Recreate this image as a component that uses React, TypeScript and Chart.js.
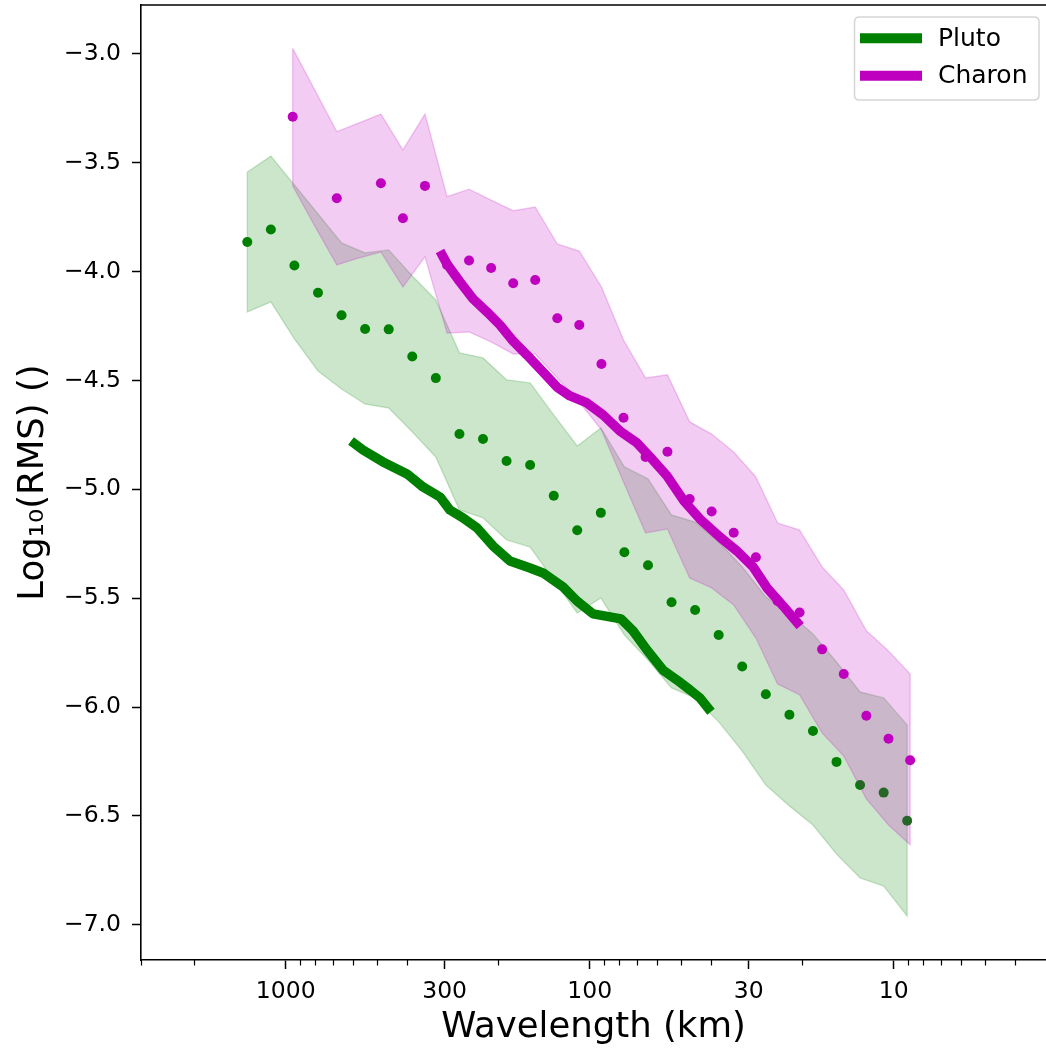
import React, { useEffect, useRef } from 'react';
import { Chart, registerables } from 'chart.js';

Chart.register(...registerables);

// ---------- data ----------
const plutoWavelength = [1337.6, 1118.9, 936.1, 782.9, 655.0, 548.0, 458.3, 383.4, 320.7, 268.2, 224.4, 187.7, 157.0, 131.3, 109.9, 91.9, 76.9, 64.3, 53.8, 45.0, 37.65, 31.5, 26.34, 22.03, 18.43, 15.42, 12.9, 10.79, 9.03];
const plutoRms = [-3.864, -3.806, -3.972, -4.097, -4.2, -4.263, -4.265, -4.39, -4.489, -4.746, -4.769, -4.87, -4.888, -5.029, -5.188, -5.108, -5.289, -5.349, -5.519, -5.554, -5.669, -5.814, -5.941, -6.035, -6.11, -6.252, -6.358, -6.393, -6.522];
const plutoUpper = [-3.542, -3.469, -3.602, -3.735, -3.868, -3.914, -3.9, -4.02, -4.13, -4.373, -4.396, -4.497, -4.511, -4.658, -4.801, -4.718, -4.897, -4.952, -5.118, -5.15, -5.242, -5.356, -5.494, -5.572, -5.664, -5.793, -5.931, -5.958, -6.082];
const plutoLower = [-4.185, -4.139, -4.309, -4.456, -4.539, -4.608, -4.626, -4.736, -4.851, -5.095, -5.131, -5.232, -5.265, -5.416, -5.568, -5.499, -5.669, -5.784, -5.912, -5.958, -6.068, -6.202, -6.358, -6.454, -6.542, -6.675, -6.785, -6.822, -6.96];

const charonWavelength = [948.4, 802.6, 679.1, 574.5, 486.2, 411.5, 348.2, 294.7, 249.4, 211.0, 178.5, 151.1, 127.8, 108.2, 91.5, 77.4, 65.5, 55.5, 46.9, 39.7, 33.6, 28.4, 24.1, 20.4, 17.2, 14.6, 12.3, 10.4, 8.83];
const charonRms = [-3.288, null, -3.663, null, -3.594, -3.755, -3.606, -3.969, -3.949, -3.983, -4.053, -4.038, -4.214, -4.245, -4.424, -4.671, -4.851, -4.827, -5.044, -5.102, -5.199, -5.312, -5.513, -5.566, -5.735, -5.848, -6.04, -6.146, -6.244];
const charonUpper = [-2.974, -3.165, -3.357, -3.317, -3.276, -3.441, -3.276, -3.655, -3.621, -3.671, -3.72, -3.703, -3.873, -3.905, -4.07, -4.314, -4.488, -4.474, -4.69, -4.746, -4.828, -4.943, -5.154, -5.187, -5.356, -5.462, -5.65, -5.742, -5.848];
const charonLower = [-3.606, -3.79, -3.969, -3.937, -3.91, -4.07, -3.932, -4.282, -4.277, -4.323, -4.378, -4.378, -4.488, -4.599, -4.727, -4.966, -5.2, -5.182, -5.407, -5.453, -5.531, -5.683, -5.894, -5.944, -6.119, -6.225, -6.422, -6.542, -6.633];

const plutoCurveWavelength = [609.8, 556.8, 478.6, 399.0, 353.5, 310.8, 288.2, 261.1, 234.8, 208.0, 182.9, 157.2, 142.4, 122.4, 110.1, 97.5, 85.8, 78.9, 72.0, 64.8, 57.4, 51.6, 46.8, 43.4, 39.9];
const plutoCurveRms = [-4.778, -4.819, -4.874, -4.929, -4.989, -5.035, -5.095, -5.131, -5.177, -5.26, -5.329, -5.361, -5.384, -5.448, -5.513, -5.572, -5.586, -5.595, -5.65, -5.738, -5.83, -5.876, -5.921, -5.958, -6.022];

const charonCurveWavelength = [310.8, 294.7, 267.2, 242.0, 217.7, 197.3, 178.8, 160.8, 142.4, 128.1, 116.1, 102.1, 90.4, 79.5, 69.9, 63.3, 55.7, 49.0, 43.4, 37.3, 32.8, 29.0, 26.1, 23.1, 20.3];
const charonCurveRms = [-3.905, -3.965, -4.047, -4.125, -4.185, -4.245, -4.318, -4.383, -4.461, -4.53, -4.571, -4.603, -4.658, -4.732, -4.787, -4.851, -4.938, -5.053, -5.136, -5.219, -5.283, -5.356, -5.453, -5.536, -5.628];

const xTickValues = [1000, 300, 100, 30, 10];
const xMinorTickValues = [3000, 2000, 900, 800, 700, 600, 500, 400, 200, 90, 80, 70, 60, 50, 40, 20, 9, 8, 7, 6, 5, 4];
const yTickValues = [-3.0, -3.5, -4.0, -4.5, -5.0, -5.5, -6.0, -6.5, -7.0];

const X_MIN = 3.155;
const X_MAX = 2992;
const Y_MIN = -7.162;
const Y_MAX = -2.775;

const GREEN = '#008000';
const MAGENTA = '#bf00bf';
const GREEN_A = 'rgba(0,128,0,0.2)';
const MAGENTA_A = 'rgba(191,0,191,0.2)';
const FONT = '"DejaVu Sans", "Liberation Sans", sans-serif';

// ---------- helpers ----------
const pts = (xs: number[], ys: (number | null)[]) => xs.map((x, i) => ({ x, y: ys[i] }));
const bandLoop = (xs: number[], up: number[], lo: number[]) => {
  const top = xs.map((x, i) => ({ x, y: up[i] }));
  const bot = xs.map((x, i) => ({ x, y: lo[i] })).reverse();
  return [...top, ...bot, top[0]];
};
const fmtMinus = (v: number) => (v < 0 ? '\u2212' : '') + Math.abs(v).toFixed(1);

const decorPlugin = {
  id: 'decor',
  afterDraw(chart: any) {
    const { ctx, chartArea, scales } = chart;
    const xs = scales.x;
    ctx.save();
    // top spine
    ctx.strokeStyle = '#000';
    ctx.lineWidth = 1.6;
    ctx.beginPath();
    ctx.moveTo(chartArea.left, chartArea.top);
    ctx.lineTo(chartArea.right + 4, chartArea.top);
    ctx.stroke();
    // minor x ticks
    ctx.lineWidth = 1.2;
    for (const v of xMinorTickValues) {
      const px = Math.round(xs.getPixelForValue(v)) + 0.5;
      ctx.beginPath();
      ctx.moveTo(px, chartArea.bottom);
      ctx.lineTo(px, chartArea.bottom + 5.5);
      ctx.stroke();
    }
    // legend (from labelled datasets)
    const items = chart.data.datasets.filter((d: any) => d.legendEntry);
    const bx = 854.5, by = 17, bw = 184.5, bh = 83, r = 5;
    ctx.beginPath();
    ctx.moveTo(bx + r, by);
    ctx.lineTo(bx + bw - r, by);
    ctx.quadraticCurveTo(bx + bw, by, bx + bw, by + r);
    ctx.lineTo(bx + bw, by + bh - r);
    ctx.quadraticCurveTo(bx + bw, by + bh, bx + bw - r, by + bh);
    ctx.lineTo(bx + r, by + bh);
    ctx.quadraticCurveTo(bx, by + bh, bx, by + bh - r);
    ctx.lineTo(bx, by + r);
    ctx.quadraticCurveTo(bx, by, bx + r, by);
    ctx.closePath();
    ctx.fillStyle = 'rgba(255,255,255,0.8)';
    ctx.fill();
    ctx.strokeStyle = '#d6d6d6';
    ctx.lineWidth = 1.5;
    ctx.stroke();
    items.forEach((d: any, i: number) => {
      const cy = 38.3 + i * 37.4;
      ctx.strokeStyle = d.borderColor;
      ctx.lineWidth = 10;
      ctx.lineCap = 'butt';
      ctx.beginPath();
      ctx.moveTo(860, cy);
      ctx.lineTo(922, cy);
      ctx.stroke();
      ctx.fillStyle = '#000';
      ctx.font = `25px ${FONT}`;
      ctx.textBaseline = 'middle';
      ctx.textAlign = 'left';
      ctx.fillText(d.label, 938, cy + 1);
    });
    ctx.restore();
  },
};

export default function App() {
  const canvasRef = useRef<HTMLCanvasElement | null>(null);

  useEffect(() => {
    if (!canvasRef.current) return;
    const chart = new Chart(canvasRef.current, {
      type: 'line',
      data: {
        datasets: [
          {
            label: 'Pluto band',
            data: bandLoop(plutoWavelength, plutoUpper, plutoLower),
            borderColor: GREEN_A,
            backgroundColor: GREEN_A,
            borderWidth: 1.4,
            pointRadius: 0,
            fill: 'shape',
            order: 8,
          } as any,
          {
            label: 'Pluto points',
            data: pts(plutoWavelength, plutoRms),
            showLine: false,
            pointRadius: 5,
            pointBorderWidth: 0,
            pointBackgroundColor: GREEN,
            borderColor: GREEN,
            order: 7,
          },
          {
            label: 'Pluto',
            legendEntry: true,
            data: pts(plutoCurveWavelength, plutoCurveRms),
            borderColor: GREEN,
            borderWidth: 9.5,
            borderCapStyle: 'butt',
            borderJoinStyle: 'round',
            pointRadius: 0,
            fill: false,
            order: 6,
          } as any,
          {
            label: 'Charon band',
            data: bandLoop(charonWavelength, charonUpper, charonLower),
            borderColor: MAGENTA_A,
            backgroundColor: MAGENTA_A,
            borderWidth: 1.4,
            pointRadius: 0,
            fill: 'shape',
            order: 5,
          } as any,
          {
            label: 'Charon points',
            data: pts(charonWavelength, charonRms),
            showLine: false,
            pointRadius: 5,
            pointBorderWidth: 0,
            pointBackgroundColor: MAGENTA,
            borderColor: MAGENTA,
            order: 4,
          },
          {
            label: 'Charon',
            legendEntry: true,
            data: pts(charonCurveWavelength, charonCurveRms),
            borderColor: MAGENTA,
            borderWidth: 9.5,
            borderCapStyle: 'butt',
            borderJoinStyle: 'round',
            pointRadius: 0,
            fill: false,
            order: 3,
          } as any,
        ],
      },
      options: {
        responsive: false,
        animation: false,
        devicePixelRatio: 1,
        layout: { autoPadding: false, padding: { top: 5, left: 0, right: 0, bottom: 0 } },
        plugins: { legend: { display: false }, tooltip: { enabled: false } },
        scales: {
          x: {
            type: 'logarithmic',
            min: X_MIN,
            max: X_MAX,
            reverse: true,
            bounds: 'data',
            afterBuildTicks: (s: any) => {
              s.ticks = xTickValues.map((v) => ({ value: v }));
            },
            afterFit: (s: any) => {
              s.height = 89;
              s.paddingLeft = 0;
              s.paddingRight = 0;
            },
            ticks: {
              autoSkip: false,
              maxRotation: 0,
              color: '#000',
              padding: 9,
              font: { family: FONT, size: 23.5 },
              callback: (v: any) => String(v),
            },
            grid: {
              display: true,
              drawOnChartArea: false,
              drawTicks: true,
              tickLength: 9,
              tickWidth: 1.5,
              tickColor: '#000',
            },
            border: { display: true, color: '#000', width: 1.6 },
            title: {
              display: true,
              text: 'Wavelength (km)',
              color: '#000',
              font: { family: FONT, size: 35.5 },
              padding: { top: 0, bottom: 0 },
            },
          } as any,
          y: {
            type: 'linear',
            min: Y_MIN,
            max: Y_MAX,
            bounds: 'data',
            afterBuildTicks: (s: any) => {
              s.ticks = yTickValues.map((v) => ({ value: v }));
            },
            afterFit: (s: any) => {
              s.width = 141;
              s.paddingTop = 0;
              s.paddingBottom = 0;
            },
            ticks: {
              color: '#000',
              padding: 11,
              font: { family: FONT, size: 23.5 },
              callback: (v: any) => fmtMinus(Number(v)),
            },
            grid: {
              display: true,
              drawOnChartArea: false,
              drawTicks: true,
              tickLength: 9,
              tickWidth: 1.5,
              tickColor: '#000',
            },
            border: { display: true, color: '#000', width: 1.6 },
            title: {
              display: true,
              text: 'Log\u2081\u2080(RMS) ()',
              color: '#000',
              font: { family: FONT, size: 35.5 },
              padding: { top: 12, bottom: 0 },
            },
          } as any,
        },
      },
      plugins: [decorPlugin],
    });
    return () => chart.destroy();
  }, []);

  return (
    <div style={{ position: 'fixed', left: 0, top: 0, width: 1046, height: 1049, background: '#fff' }}>
      <canvas ref={canvasRef} width={1046} height={1049} style={{ display: 'block' }} />
    </div>
  );
}
